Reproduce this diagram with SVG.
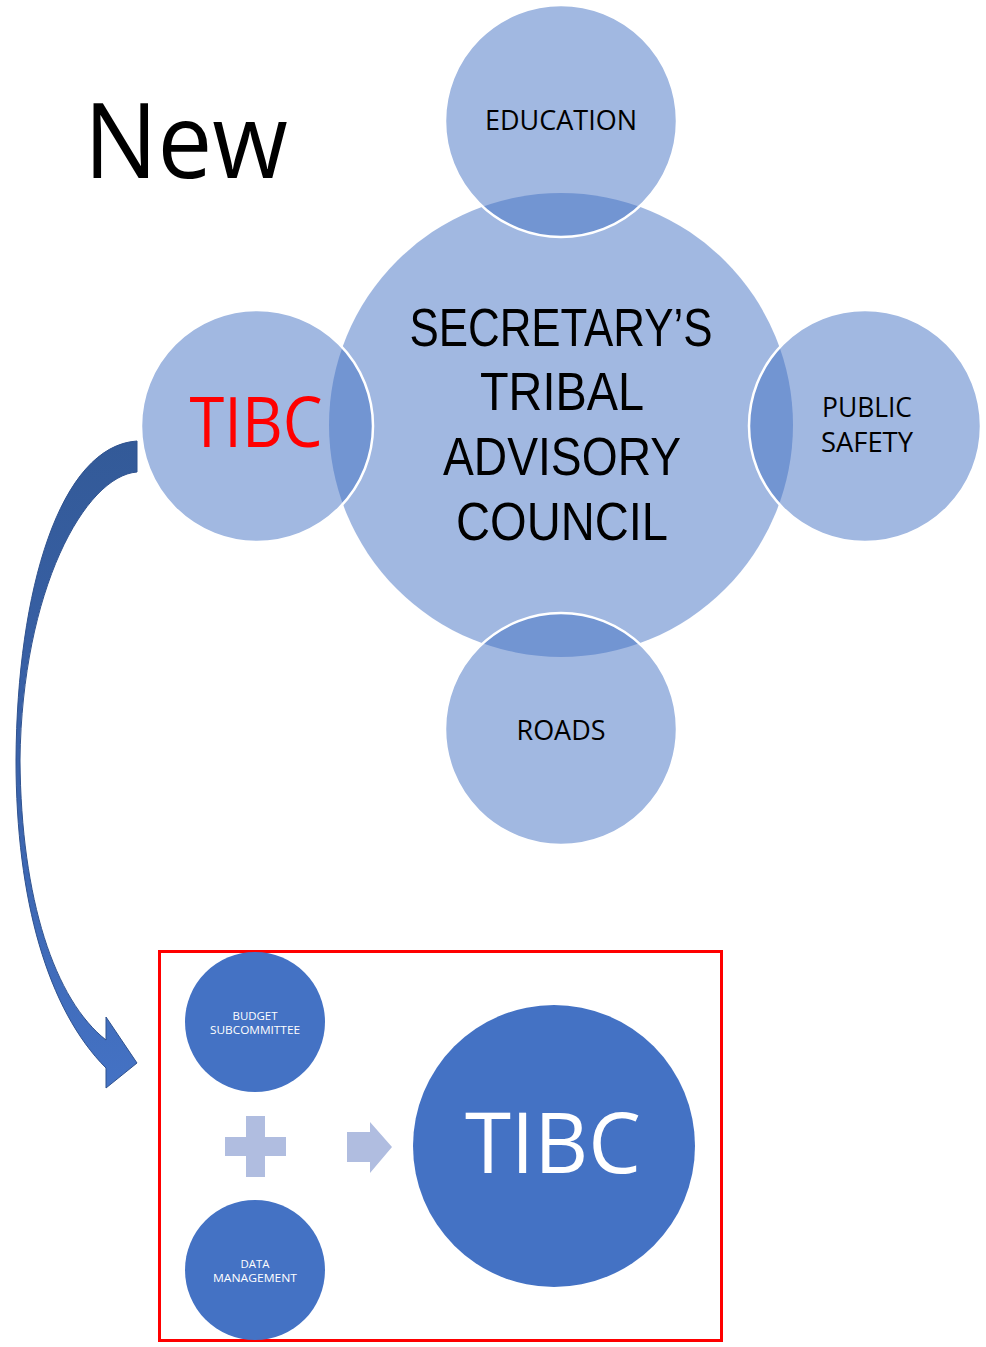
<svg xmlns="http://www.w3.org/2000/svg" width="986" height="1347" viewBox="0 0 986 1347">
<style>
.t{font-family:"Open Sans","Liberation Sans",sans-serif;}
.m{font-family:"Liberation Sans","Open Sans",sans-serif;}
.lc{fill:#4472C4;fill-opacity:0.5;}
.sc{fill:#4472C4;fill-opacity:0.5;stroke:#FFFFFF;stroke-width:2.5;}
.dk{fill:#4472C4;}
.lb{fill:#000000;text-anchor:middle;}
.wt{fill:#FFFFFF;text-anchor:middle;}
.pl{fill:#B0BDE0;}
</style>
<defs>
<linearGradient id="ag" x1="0" y1="0" x2="0" y2="1">
<stop offset="0" stop-color="#335A98"/>
<stop offset="0.5" stop-color="#3A62AA"/>
<stop offset="1" stop-color="#4472C4"/>
</linearGradient>
</defs>
<rect width="986" height="1347" fill="#FFFFFF"/>
<text class="t" x="84" y="178" font-size="104" textLength="204" lengthAdjust="spacingAndGlyphs">New</text>
<g id="council">
<circle class="lc" cx="561" cy="425" r="232"/>
<text class="m lb" font-size="54" x="561" y="346" textLength="303" lengthAdjust="spacingAndGlyphs">SECRETARY’S</text>
<text class="m lb" font-size="54" x="562" y="410" textLength="164" lengthAdjust="spacingAndGlyphs">TRIBAL</text>
<text class="m lb" font-size="54" x="562" y="475" textLength="238" lengthAdjust="spacingAndGlyphs">ADVISORY</text>
<text class="m lb" font-size="54" x="562" y="540" textLength="212" lengthAdjust="spacingAndGlyphs">COUNCIL</text>
</g>
<g id="education">
<circle class="sc" cx="561" cy="121" r="116"/>
<text class="t lb" font-size="27" x="561" y="130" textLength="152" lengthAdjust="spacingAndGlyphs">EDUCATION</text>
</g>
<g id="tibc-top">
<circle class="sc" cx="257" cy="426" r="116"/>
<text class="t" fill="#FF0000" text-anchor="middle" font-size="69" x="256" y="447" textLength="133" lengthAdjust="spacingAndGlyphs">TIBC</text>
</g>
<g id="public-safety">
<circle class="sc" cx="865" cy="426" r="116"/>
<text class="t lb" font-size="27" x="867" y="417" textLength="90" lengthAdjust="spacingAndGlyphs">PUBLIC</text>
<text class="t lb" font-size="27" x="867" y="452" textLength="92" lengthAdjust="spacingAndGlyphs">SAFETY</text>
</g>
<g id="roads">
<circle class="sc" cx="561" cy="729" r="116"/>
<text class="t lb" font-size="27" x="561" y="740" textLength="89" lengthAdjust="spacingAndGlyphs">ROADS</text>
</g>
<g id="connectors">
<path d="M137,441 C60,446 17,590 16,760 C16,900 48,1010 106,1068 L106,1088 L137,1063 L106,1017 L106,1040 C55,1000 21,900 20,760 C22,590 85,476 137,472 Z" fill="url(#ag)" stroke="#2F528F" stroke-width="1"/>
</g>
<g id="frame">
<rect x="159.5" y="951.5" width="562" height="389" fill="none" stroke="#FF0000" stroke-width="3"/>
</g>
<g id="budget">
<circle class="dk" cx="255" cy="1022" r="70"/>
<text class="t wt" font-size="11" x="255" y="1020" textLength="45" lengthAdjust="spacingAndGlyphs">BUDGET</text>
<text class="t wt" font-size="11" x="255" y="1034" textLength="90" lengthAdjust="spacingAndGlyphs">SUBCOMMITTEE</text>
</g>
<g id="plus">
<rect class="pl" x="225" y="1137" width="61" height="19"/>
<rect class="pl" x="246" y="1116" width="19" height="61"/>
</g>
<g id="data">
<circle class="dk" cx="255" cy="1270" r="70"/>
<text class="t wt" font-size="11" x="255" y="1268" textLength="29" lengthAdjust="spacingAndGlyphs">DATA</text>
<text class="t wt" font-size="11" x="255" y="1282" textLength="84" lengthAdjust="spacingAndGlyphs">MANAGEMENT</text>
</g>
<g id="arrow">
<path class="pl" d="M347,1132 L370,1132 L370,1122 L392,1147 L370,1173 L370,1162 L347,1162 Z"/>
</g>
<g id="tibc-bottom">
<circle class="dk" cx="554" cy="1146" r="141"/>
<text class="t wt" font-size="85" x="553" y="1173" textLength="176" lengthAdjust="spacingAndGlyphs">TIBC</text>
</g>
</svg>
